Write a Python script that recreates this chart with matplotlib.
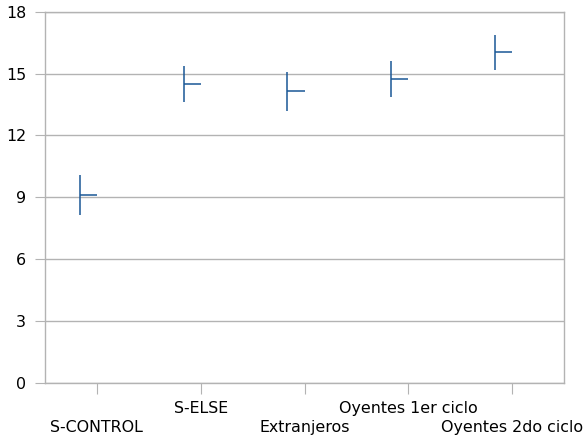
import matplotlib
matplotlib.use('Agg')
import matplotlib.pyplot as plt
import numpy as np

plt.rcParams['font.family'] = ['DejaVu Sans']

# Data
categories = ['S-CONTROL', 'S-ELSE', 'Extranjeros', 'Oyentes 1er ciclo', 'Oyentes 2do ciclo']
high = [10.06, 15.35, 15.10, 15.61, 16.89]
low = [8.16, 13.61, 13.21, 13.85, 15.19]
close = [9.13, 14.48, 14.16, 14.74, 16.03]

line_color = '#1a5796'
grid_color = '#b3b3b3'

fig = plt.figure(figsize=(5.83, 4.42), dpi=100)
ax = fig.add_axes([0.0772, 0.1335, 0.8902, 0.840])

x = np.arange(len(categories))
offset = 0.165

# High-low bars with close ticks
ax.vlines(x - offset, low, high, color=line_color, linewidth=1.1)
ax.hlines(close, x - offset, x, color=line_color, linewidth=1.1)

ax.set_xlim(-0.5, len(categories) - 0.5)
ax.set_ylim(0, 18)
ax.set_yticks(np.arange(0, 19, 3))
ax.grid(axis='y', color=grid_color, linewidth=1.0)
ax.set_axisbelow(True)

# staggered category labels (odd ones on the upper row)
ax.set_xticks(x)
ax.set_xticklabels([])
for i, c in enumerate(categories):
    dy = -18.7 if i % 2 == 1 else -32.4
    ax.annotate(c, xy=(x[i], 0), xycoords='data', xytext=(0, dy),
                textcoords='offset points', ha='center', va='center',
                fontsize=11.4, annotation_clip=False)

ax.tick_params(axis='x', length=8, color=grid_color)
ax.tick_params(axis='y', length=7.5, color=grid_color, pad=6, labelsize=11.4)

for s in ax.spines.values():
    s.set_color(grid_color)
    s.set_linewidth(1.0)

plt.savefig('out.png', dpi=100)
